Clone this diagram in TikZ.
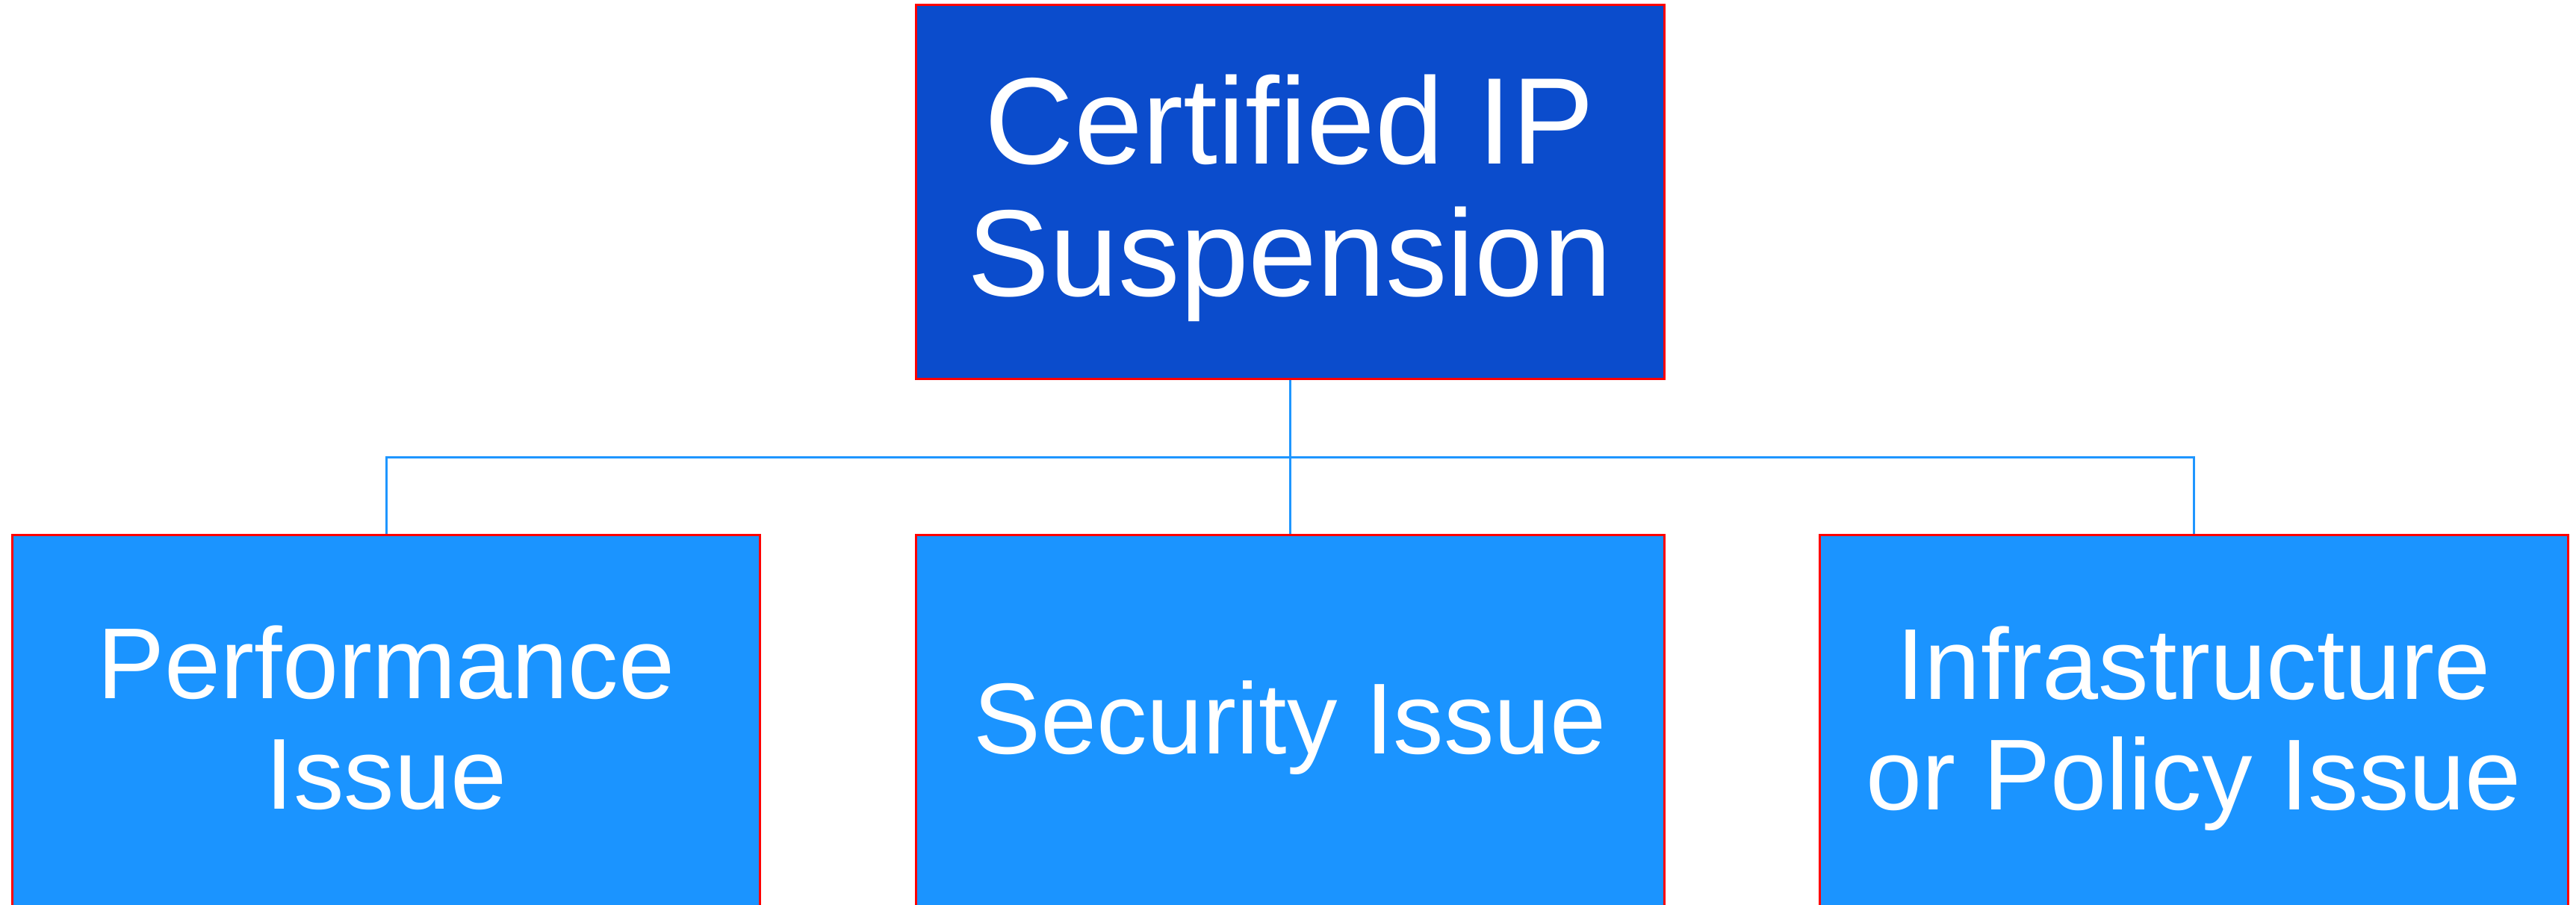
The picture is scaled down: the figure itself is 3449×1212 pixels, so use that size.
\documentclass[tikz,border=0pt]{standalone}
\usepackage{fontspec}
\setmainfont{Liberation Sans}
\definecolor{rootblue}{HTML}{0B4CCC}
\definecolor{leafblue}{HTML}{1B94FF}
\definecolor{linkblue}{HTML}{1E96FF}
\begin{document}
\begin{tikzpicture}[x=0.1pt, y=-0.1pt,
  box/.style={rectangle, draw=red, line width=0.3pt, inner sep=0pt,
    minimum width=100.2pt, minimum height=50.1pt},
  rootbox/.style={box, fill=rootblue},
  leafbox/.style={box, fill=leafblue},
  caption/.style={inner sep=0pt, text=white, align=center},
  roottext/.style={caption, font=\fontsize{16.5pt}{17.7pt}\selectfont},
  leaftext/.style={caption, font=\fontsize{13.5pt}{14.8pt}\selectfont},
  conn/.style={draw=linkblue, line width=0.3pt}]
  \useasboundingbox (0,0) rectangle (3449,1212);
  \clip (0,0) rectangle (3449,1212);

  % boxes of the tree
  \node[rootbox] (root)  at (1727,257.5) {};
  \node[leafbox] (perf)  at (517,967.5)  {};
  \node[leafbox] (sec)   at (1727,967.5) {};
  \node[leafbox] (infra) at (2937,967.5) {};

  % captions
  \node[roottext, yshift=-0.74pt] (roottxt)  at (root.center)  {Certified IP\\Suspension};
  \node[leaftext, yshift=0.57pt]  (perftxt)  at (perf.center)  {Performance\\Issue};
  \node[leaftext, yshift=-0.75pt] (sectxt)   at (sec.center)   {Security Issue};
  \node[leaftext, yshift=-0.85pt] (infratxt) at (infra.center) {Infrastructure\\or Policy Issue};

  % branching connectors
  \coordinate (bus) at (1727,613);
  \draw[conn] (root.south) -- (bus);
  \draw[conn] (bus) -- (sec.north);
  \draw[conn] (bus) -| (perf.north);
  \draw[conn] (bus) -| (infra.north);
\end{tikzpicture}
\end{document}
